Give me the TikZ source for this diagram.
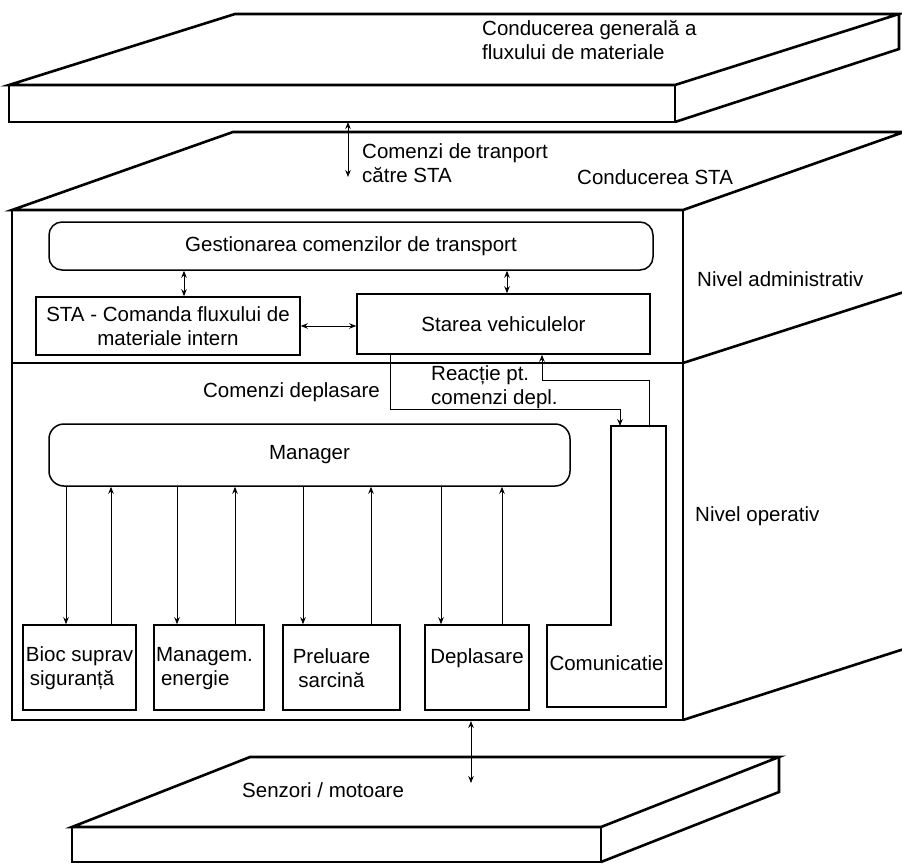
\documentclass[tikz,border=0pt]{standalone}
\usepackage{fontspec}
\setmainfont{Liberation Sans}
\usetikzlibrary{arrows.meta}

\newcommand{\gap}[1]{\makebox[#1]{}}

\begin{document}
\begin{tikzpicture}[x=1pt,y=-1pt,
  solid3d/.style={line width=2.6pt, line join=miter},
  box/.style={draw, line width=1.5pt, inner sep=0pt, align=center},
  rbox/.style={box, rounded corners=13pt},
  link/.style={line width=0.9pt},
  dbl/.style={link, {Stealth[length=7pt,width=5.5pt]}-{Stealth[length=7pt,width=5.5pt]}},
  one/.style={link, -{Stealth[length=7pt,width=5.5pt]}},
  txt/.style={inner sep=0pt, align=left},
  every node/.style={font=\fontsize{20.5}{24}\selectfont}
]
\useasboundingbox (0,0) rectangle (902,864);

% ---------- upper slab: general material flow control ----------
\draw[solid3d] (9,85) -- (235,14) -- (899,14) -- (675,85) -- cycle;
\draw[solid3d] (9,85) rectangle (675,122);
\draw[solid3d] (675,122) -- (899,49) -- (899,14);
\node[txt, anchor=north west] (gen) at (482,20)
  {Conducerea generală a\\fluxului de materiale};

% ---------- middle block: STA control ----------
\draw[solid3d] (12,210) -- (233,132) -- (904,132) -- (683,210) -- cycle;
\draw[solid3d] (12,210) rectangle (683,720);
\draw[solid3d] (12,363) -- (683,363);
\draw[solid3d] (683,363) -- (904,292);
\draw[solid3d] (683,720) -- (904,649);
\node[txt, anchor=base west] (sta3d) at (577,184) {Conducerea STA};
\node[txt, anchor=base west] (adm) at (697,286) {Nivel administrativ};
\node[txt, anchor=base west] (op) at (695,521) {Nivel operativ};

% link between upper slab and STA control
\coordinate (up1) at (348,122);
\coordinate (up2) at (348,177);
\draw[dbl] (up1) -- (up2);
\node[txt, anchor=north west] (cmdsta) at (362,143)
  {Comenzi de tranport\\către STA};

% ---------- administrative level ----------
\node[rbox, minimum width=604pt, minimum height=48pt] (gest) at (351,246)
  {Gestionarea comenzilor de transport};
\node[box, minimum width=264pt, minimum height=58pt] (sta) at (168,326)
  {STA - Comanda fluxului de\\materiale intern};
\node[box, minimum width=293pt, minimum height=60pt] (veh) at (503.5,324)
  {Starea vehiculelor};

\coordinate (xa) at (184,0);
\coordinate (xb) at (507,0);
\draw[dbl] (gest.south -| xa) -- (sta.north -| xa);
\draw[dbl] (gest.south -| xb) -- (veh.north -| xb);
\draw[dbl] (sta.east) -- (veh.west |- sta.east);

% ---------- operative level ----------
\node[rbox, rounded corners=15pt, minimum width=521pt, minimum height=62pt] (mgr) at (309.5,455)
  {Manager};

\node[box, align=left, minimum width=113pt, minimum height=85pt] (b1) at (79.5,667.5)
  {\strut Bioc suprav\\\gap{4pt}siguranță};
\node[box, align=left, minimum width=110pt, minimum height=85pt] (b2) at (209,667.5)
  {\strut Managem.\gap{9pt}\\\gap{5pt}energie};
\node[box, minimum width=117pt, minimum height=85pt] (b3) at (341.5,667.5)
  {\strut Preluare\gap{20pt}\\sarcină\gap{20pt}};
\node[box, minimum width=104pt, minimum height=85pt] (b4) at (477,667.5)
  {\strut Deplasare\\\mbox{}};

% communication block (stepped outline)
\coordinate (cm1) at (611,426);
\coordinate (cm2) at (666,426);
\draw[line width=1.5pt] (cm1) -- (cm2) -- (666,707) -- (547,707) -- (547,625)
  -- (611,625) -- cycle;
\node[txt] (com) at (606.5,663) {Comunicatie};

% manager <-> function blocks
\foreach \d/\u/\b in {66/111/b1, 177/235/b2, 303/371/b3, 441/502/b4}{
  \coordinate (dn) at (\d,0);
  \coordinate (upx) at (\u,0);
  \draw[one] (mgr.south -| dn) -- (\b.north -| dn);
  \draw[one] (\b.north -| upx) -- (mgr.south -| upx);
}

% movement commands and their feedback
\coordinate (xc) at (390,0);
\coordinate (xd) at (542,0);
\coordinate (cin) at (620,426);
\coordinate (cout) at (649,426);
\draw[one] (veh.south -| xc) -- ++(0,55) -| (cin);
\draw[one] (cout) -- ++(0,-46) -| (veh.south -| xd);
\node[txt, anchor=base east] (mv) at (380,397) {Comenzi deplasare};
\node[txt, anchor=north west] (fb) at (431,365) {Reacție pt.\\comenzi depl.};

% ---------- lower slab: sensors / motors ----------
\coordinate (lo1) at (471,721);
\coordinate (lo2) at (471,783);
\draw[solid3d] (72,827) -- (250,757) -- (779,757) -- (601,827) -- cycle;
\draw[solid3d] (72,827) rectangle (601,862);
\draw[solid3d] (601,862) -- (779,792) -- (779,757);
\draw[dbl] (lo1) -- (lo2);
\node[txt, anchor=base west] (sens) at (242,797) {Senzori / motoare};

\end{tikzpicture}
\end{document}
